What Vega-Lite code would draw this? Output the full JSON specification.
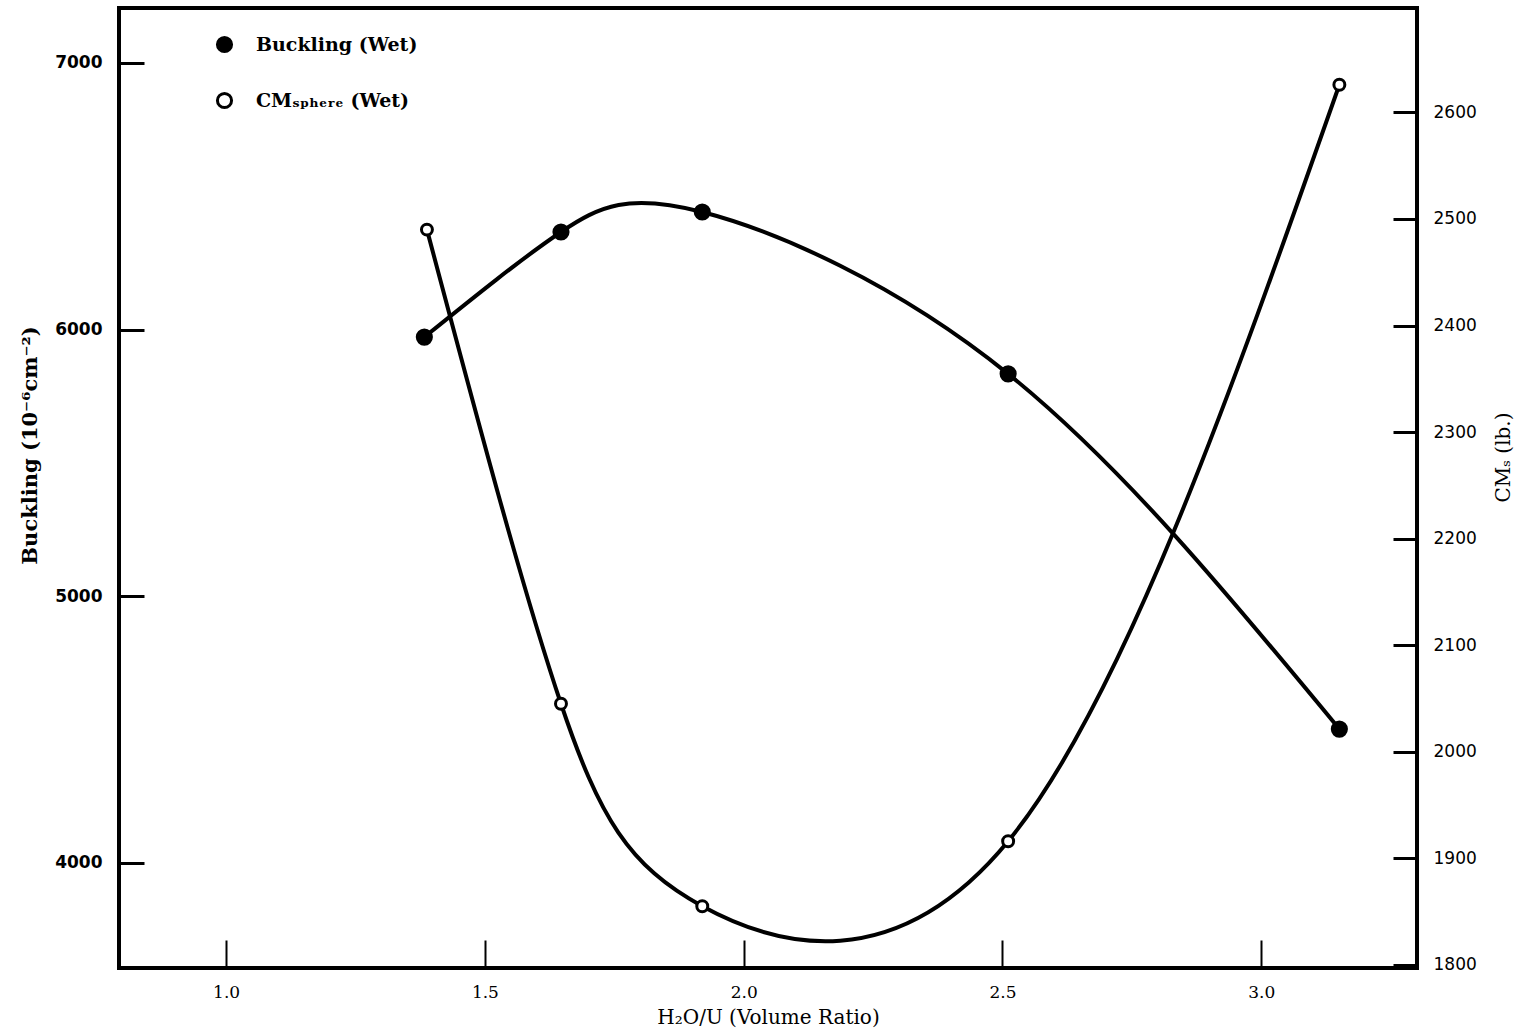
{
  "$schema": "https://vega.github.io/schema/vega-lite/v6.json",
  "width": 1298,
  "height": 960,
  "autosize": {"type": "none"},
  "padding": {"left": 119, "top": 8, "right": 102, "bottom": 64},
  "background": "white",
  "config": {
    "view": {"stroke": "black", "strokeWidth": 4},
    "axis": {
      "grid": false,
      "domain": false,
      "tickColor": "black",
      "labelColor": "black",
      "titleColor": "black",
      "labelFont": "DejaVu Serif",
      "titleFont": "DejaVu Serif",
      "titleFontWeight": "normal"
    }
  },
  "datasets": {
    "buckling": [
      {"ratio": 1.383, "value": 5972, "series": "Buckling (Wet)"},
      {"ratio": 1.647, "value": 6366, "series": "Buckling (Wet)"},
      {"ratio": 1.920, "value": 6441, "series": "Buckling (Wet)"},
      {"ratio": 2.511, "value": 5834, "series": "Buckling (Wet)"},
      {"ratio": 3.151, "value": 4502, "series": "Buckling (Wet)"}
    ],
    "cms": [
      {"ratio": 1.388, "value": 2490, "series": "CMₛₚₕₑᵣₑ (Wet)"},
      {"ratio": 1.647, "value": 2045, "series": "CMₛₚₕₑᵣₑ (Wet)"},
      {"ratio": 1.920, "value": 1855, "series": "CMₛₚₕₑᵣₑ (Wet)"},
      {"ratio": 2.511, "value": 1916, "series": "CMₛₚₕₑᵣₑ (Wet)"},
      {"ratio": 3.151, "value": 2626, "series": "CMₛₚₕₑᵣₑ (Wet)"}
    ]
  },
  "layer": [
    {
      "data": {"name": "buckling"},
      "encoding": {
        "x": {
          "field": "ratio", "type": "quantitative",
          "scale": {"domain": [0.793, 3.301], "nice": false, "zero": false},
          "axis": {
            "values": [1.0, 1.5, 2.0, 2.5, 3.0], "format": ".1f",
            "tickSize": -28, "tickWidth": 2, "labelPadding": 44,
            "labelFontSize": 17, "title": "H₂O/U (Volume Ratio)",
            "titleFontSize": 20, "titleY": 49, "titleBaseline": "middle"
          }
        },
        "y": {
          "field": "value", "type": "quantitative",
          "scale": {"domain": [3606, 7206], "nice": false, "zero": false},
          "axis": {
            "orient": "left", "values": [4000, 5000, 6000, 7000],
            "format": "d", "tickSize": -25, "tickWidth": 3,
            "labelPadding": 42, "labelFontSize": 17, "labelFontWeight": "bold",
            "labelFont": "DejaVu Sans",
            "title": "Buckling (10⁻⁶cm⁻²)", "titleFontSize": 21,
            "titleFontWeight": "bold", "titleX": -89, "titleY": 437,
            "titleBaseline": "middle", "titleAngle": -90
          }
        }
      },
      "layer": [
        {"mark": {"type": "line", "interpolate": "natural", "color": "black", "strokeWidth": 4}},
        {
          "mark": {"type": "circle", "size": 200, "stroke": "black", "strokeWidth": 3, "opacity": 1},
          "encoding": {
            "fill": {
              "field": "series", "type": "nominal",
              "scale": {"domain": ["Buckling (Wet)", "CMₛₚₕₑᵣₑ (Wet)"], "range": ["black", "white"]},
              "legend": {
                "orient": "none", "legendX": 96, "legendY": 27, "title": null,
                "labelFont": "DejaVu Serif", "labelFontSize": 19, "labelFontWeight": "bold",
                "labelColor": "black", "labelLimit": 400, "symbolSize": 200, "symbolStrokeColor": "black",
                "symbolStrokeWidth": 3, "rowPadding": 29, "labelOffset": 22,
                "symbolType": "circle"
              }
            }
          }
        }
      ]
    },
    {
      "data": {"name": "cms"},
      "encoding": {
        "x": {"field": "ratio", "type": "quantitative"},
        "y": {
          "field": "value", "type": "quantitative",
          "scale": {"domain": [1797, 2698], "nice": false, "zero": false},
          "axis": {
            "orient": "right", "values": [1800, 1900, 2000, 2100, 2200, 2300, 2400, 2500, 2600],
            "format": "d", "tickSize": -24, "tickWidth": 3,
            "labelPadding": 40, "labelFontSize": 17, "labelFont": "DejaVu Sans",
            "title": "CMₛ (lb.)", "titleFontSize": 20, "titleAngle": -90,
            "titleX": 86, "titleY": 449, "titleBaseline": "middle"
          }
        }
      },
      "layer": [
        {"mark": {"type": "line", "interpolate": "natural", "color": "black", "strokeWidth": 4}},
        {
          "mark": {"type": "circle", "size": 120, "stroke": "black", "strokeWidth": 3, "opacity": 1},
          "encoding": {
            "fill": {"field": "series", "type": "nominal"}
          }
        }
      ]
    }
  ],
  "resolve": {"scale": {"y": "independent"}}
}
